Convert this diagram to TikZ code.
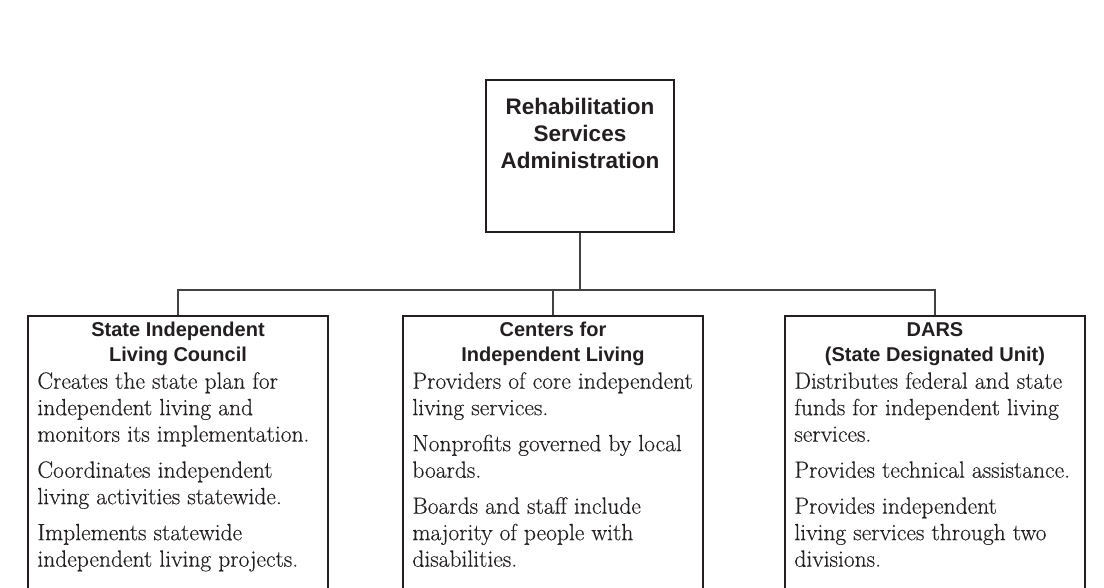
\documentclass[tikz,border=0pt]{standalone}
\usepackage{fontspec}
\setsansfont{Liberation Sans}
\newfontfamily\bodyfont{Latin Modern Roman}[FakeBold=0.3]
\definecolor{ink}{HTML}{231F20}
\begin{document}
\begin{tikzpicture}[x=1pt,y=-1pt,
  topbox/.style={draw=ink,line width=1.6pt,minimum width=188pt,minimum height=152pt,inner sep=0pt},
  childbox/.style={draw=ink,line width=1.6pt,minimum width=300pt,minimum height=320pt,anchor=north,inner sep=0pt},
  head/.style={text=ink,font=\sffamily\bfseries\fontsize{20}{25}\selectfont,align=center,anchor=north,inner sep=0pt},
  toptext/.style={text=ink,font=\sffamily\bfseries\fontsize{22.5}{27}\selectfont,align=center,inner sep=0pt},
  body/.style={text=ink,font=\bodyfont\fontsize{23.5}{26.5}\selectfont,align=left,anchor=north west,inner sep=0pt},
  conn/.style={draw=ink!85,line width=1.1pt}]
\useasboundingbox (0,0) rectangle (1104,588);
\clip (0,0) rectangle (1104,588);
\node[topbox] (rsa) at (580,156) {};
\node[toptext] at ([yshift=23pt]rsa.center) {Rehabilitation\\Services\\Administration};
\node[childbox] (sil) at (178,315) {};
\node[childbox] (cil) at (553,315) {};
\node[childbox] (dars) at (935,315) {};
\coordinate (busl) at (178,290);
\coordinate (busr) at (935,290);
\coordinate (busm) at (580,290);
\draw[conn] (rsa.south) -- (busm);
\draw[conn] (sil.north) -- (busl) -- (busr) -- (dars.north);
\draw[conn] (cil.north) -- (cil.north |- busm);
\node[head] at ([yshift=-7pt]sil.north) {State Independent\\Living Council};
\node[head] at ([yshift=-7pt]cil.north) {Centers for\\Independent Living};
\node[head] at ([yshift=-7pt]dars.north) {DARS\\(State Designated Unit)};
\node[body] at ([xshift=10pt,yshift=-57pt]sil.north west) {Creates the state plan for\\independent living and\\monitors its implementation.\\[9.5pt]Coordinates independent\\living activities statewide.\\[9.5pt]Implements statewide\\independent living projects.};
\node[body] at ([xshift=10pt,yshift=-57pt]cil.north west) {Providers of core independent\\living services.\\[9.5pt]Nonprofits governed by local\\boards.\\[9.5pt]Boards and staff include\\majority of people with\\disabilities.};
\node[body] at ([xshift=10pt,yshift=-57pt]dars.north west) {Distributes federal and state\\funds for independent living\\services.\\[9.5pt]Provides technical assistance.\\[9.5pt]Provides independent\\living services through two\\divisions.};
\end{tikzpicture}
\end{document}
